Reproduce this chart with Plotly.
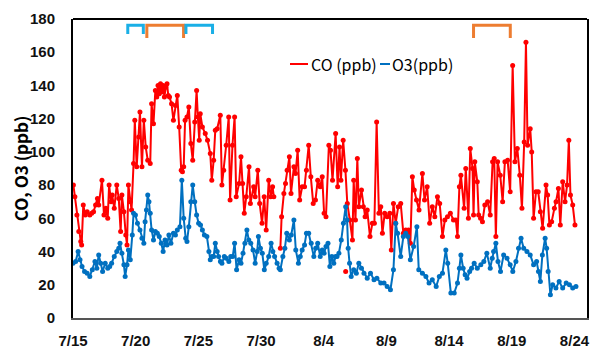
import pandas as pd
import plotly.graph_objects as go

start = pd.Timestamp("2023-07-15")

# CO (ppb): day offset from 7/15 and value (None = gap)
co_day = [0.03,0.15,0.31,0.46,0.62,0.69,0.82,0.98,1.13,1.34,1.49,1.64,1.80,1.95,2.05,2.31,2.47,2.62,2.77,2.88,3.03,3.13,3.29,3.49,3.65,3.80,3.90,4.06,4.21,4.31,4.42,4.57,4.67,4.83,4.93,5.08,5.24,5.34,5.50,5.65,5.80,5.96,6.16,6.27,6.42,6.57,6.68,6.78,6.88,6.98,7.09,7.19,7.29,7.40,7.50,7.60,7.70,7.86,8.01,8.17,8.32,8.47,8.63,8.73,8.83,8.94,9.09,9.24,9.40,9.55,9.71,9.86,9.96,10.07,
          10.15,10.32,10.55,10.73,10.95,11.07,11.22,11.35,11.50,11.75,11.88,12.02,12.22,12.42,12.53,12.72,12.89,13.02,13.25,13.40,13.53,13.66,13.82,14.04,14.15,14.41,14.53,14.74,14.89,15.08,15.25,15.41,15.61,15.77,15.92,16.02,16.28,
          16.54,16.64,16.82,16.95,17.08,17.26,17.39,17.62,17.75,17.92,18.08,18.28,18.47,18.62,18.80,18.97,19.16,19.34,19.52,19.72,19.88,20.03,20.18,20.41,20.54,
          20.70,20.95,21.11,21.26,21.37,21.55,21.73,21.88,22.08,22.29,22.39,22.53,22.68,22.80,23.01,23.16,23.30,23.47,23.69,23.88,24.04,24.22,24.40,24.55,24.68,24.86,25.06,25.27,25.39,25.56,25.74,25.94,26.14,26.35,26.54,26.76,26.91,27.07,27.22,27.40,27.60,27.87,28.04,28.25,28.45,28.66,28.86,29.07,29.25,29.47,29.66,29.87,30.10,30.35,30.54,30.67,30.82,
          30.94,31.20,31.33,31.54,31.69,31.87,31.95,32.05,32.25,32.36,32.51,32.66,32.85,33.07,33.28,33.47,33.60,33.73,33.87,34.08,34.27,34.45,34.67,34.87,35.07,35.25,35.44,35.64,35.81,35.99,36.13,36.26,36.47,36.59,36.74,36.93,37.11,37.28,37.46,37.73,37.86,38.00,38.18,38.40,38.53,38.72,38.87,39.06,39.25,39.41,39.55,39.68,39.86,40.04]
co_val = [80,73,62,52,46,44,68,62,64,62,63,64,68,72,68,83,62,66,60,80,70,74,66,80,72,52,74,64,50,44,80,70,65,93,119,91,109,124,91,119,103,95,93,129,117,137,133,140,135,141,136,140,133,139,141,134,133,129,119,128,134,115,89,88,91,119,121,127,105,95,118,137,121,107,
          123,115,111,107,99,83,95,113,114,122,80,89,104,121,71,104,121,73,81,97,81,63,73,91,69,79,73,89,69,57,73,53,83,73,79,73,None,
          42,61,75,81,89,97,75,91,87,101,71,79,79,89,104,85,69,71,83,79,85,63,61,104,101,
          83,111,79,103,83,107,89,69,59,47,83,59,96,67,77,67,61,65,49,57,57,118,63,67,51,63,61,63,41,69,57,67,69,51,53,53,45,85,77,71,65,87,71,79,57,67,61,73,69,49,59,61,63,59,59,49,79,
          86,66,90,60,102,90,62,94,82,62,60,58,68,70,62,94,96,49,94,86,70,94,95,76,152,94,102,86,66,106,166,104,114,100,60,76,76,64,54,80,74,56,58,66,70,78,56,82,70,80,107,74,68,56]

# isolated CO sample
co_extra_day = [21.75]
co_extra_val = [28]

# O3 (ppb)
o3_day = [0.0,0.21,0.41,0.56,0.72,0.92,1.13,1.34,1.54,1.75,1.90,2.05,2.21,2.36,2.57,2.77,2.93,3.08,3.29,3.49,3.65,3.75,3.90,4.06,4.16,4.31,4.42,4.57,4.73,4.83,4.98,5.14,5.34,5.50,5.65,5.75,5.86,5.96,6.06,6.16,6.27,6.42,6.57,6.73,6.88,7.04,7.19,7.34,7.50,7.65,7.81,8.01,8.17,8.32,8.53,8.68,8.83,8.99,9.09,9.24,9.40,9.55,9.71,9.86,10.02,10.17,10.32,
          10.48,10.68,10.84,10.95,11.09,11.22,11.35,11.50,11.61,11.76,11.88,12.07,12.22,12.43,12.58,12.74,12.89,13.05,13.25,13.40,13.56,13.71,13.87,14.02,14.18,14.36,14.53,14.69,14.79,14.95,15.10,15.26,15.41,15.61,15.80,15.94,16.08,16.28,16.44,16.54,16.74,16.90,17.05,17.26,17.41,17.62,17.77,17.98,18.13,18.28,18.47,18.62,18.80,19.00,19.21,19.36,19.52,19.72,19.88,20.03,20.18,20.34,20.49,20.65,
          20.80,20.95,21.06,21.21,21.40,21.57,21.75,21.86,21.95,22.06,22.19,22.39,22.60,22.80,23.01,23.21,23.47,23.73,24.01,24.24,24.55,24.81,25.06,25.32,25.56,25.74,25.89,26.14,26.35,26.54,26.71,26.91,27.17,27.43,27.58,27.87,28.15,28.40,28.66,28.97,29.22,29.47,29.74,29.89,30.14,30.41,30.67,30.82,
          30.94,31.12,31.28,31.43,31.64,31.79,32.00,32.25,32.53,32.77,33.01,33.28,33.44,33.55,33.73,33.90,34.10,34.35,34.62,34.87,35.08,35.33,35.54,35.74,35.95,36.21,36.47,36.74,36.98,37.13,37.28,37.44,37.66,37.78,37.90,38.08,38.26,38.52,38.78,39.06,39.34,39.60,39.86,40.12]
o3_val = [33,34,40,35,31,28,27,25,29,34,30,38,33,28,33,30,31,33,37,40,42,45,39,32,25,32,41,35,50,63,62,57,53,48,45,58,65,74,70,63,53,47,52,51,49,45,40,47,44,50,45,51,50,53,55,83,60,48,46,55,70,80,70,62,57,56,53,
          50,49,40,35,37,37,45,40,37,34,33,37,36,34,37,37,45,29,35,33,39,45,53,47,45,41,33,40,49,42,39,29,33,37,45,40,37,33,30,29,37,42,51,47,50,59,41,33,37,41,44,51,51,45,37,42,45,37,41,39,43,45,31,37,
          33,37,37,39,47,57,67,59,42,33,25,29,27,33,30,27,24,27,23,24,21,21,19,17,29,57,51,37,49,51,49,35,43,55,29,27,25,21,23,19,25,27,41,33,15,15,21,30,
          38,30,26,24,28,30,33,30,32,34,39,30,36,40,45,34,28,38,36,32,28,34,42,48,42,40,38,32,34,28,22,38,48,42,28,14,20,18,22,18,21,20,18,19]

# x-axis: range 7/15 .. 8/25, ticks every 5 days
x_range_days = [0, 41]
tick_day = [0, 5, 10, 15, 20, 25, 30, 35, 40]
tick_text = ["7/15", "7/20", "7/25", "7/30", "8/4", "8/9", "8/14", "8/19", "8/24"]

# marked periods (start day, end day, colour group)
periods_day = [(4.37, 5.61), (5.89, 8.82), (9.01, 11.13), (31.95, 34.88)]
periods_kind = ["blue", "orange", "blue", "orange"]

series_names = ["CO (ppb)", "O3(ppb)"]

def to_time(days):
    return [start + pd.Timedelta(days=d) for d in days]

def pstr(t):
    return t.strftime("%Y-%m-%d_%H:%M:%S")

RED = "#FF0000"
BLUE = "#0070C0"
fig = go.Figure()
fig.add_trace(go.Scatter(x=to_time(co_day), y=co_val, name=series_names[0], mode="lines+markers",
                         line=dict(color=RED, width=2), marker=dict(color=RED, size=5),
                         connectgaps=False, showlegend=False))
fig.add_trace(go.Scatter(x=to_time(o3_day), y=o3_val, name=series_names[1], mode="lines+markers",
                         line=dict(color=BLUE, width=2), marker=dict(color=BLUE, size=5),
                         showlegend=False))
fig.add_trace(go.Scatter(x=to_time(co_extra_day), y=co_extra_val, mode="markers",
                         marker=dict(color=RED, size=5), showlegend=False))

kind_col = {"blue": "#1AAFE6", "orange": "#ED7D31"}
for (d0, d1), k in zip(periods_day, periods_kind):
    t0 = pstr(start + pd.Timedelta(days=d0))
    t1 = pstr(start + pd.Timedelta(days=d1))
    ybot = 171 if k == "blue" else 168.5
    fig.add_shape(type="path", xref="x", yref="y",
                  path=f"M {t0},{ybot} L {t0},176.3 L {t1},176.3 L {t1},{ybot}",
                  line=dict(color=kind_col[k], width=3))

# top frame line
fig.add_shape(type="line", xref="paper", yref="paper", x0=0, x1=1, y0=1, y1=1,
              line=dict(color="black", width=2))

# compact legend (short line samples, as in the reference)
PW = 514.0  # plot width px
PH = 299.0  # plot height px
def px_x(p):
    return (p - 73) / PW
def px_y(p):
    return (318 - p) / PH
leg_y = px_y(64)
legend_items = [(290, 308, 311, RED), (380, 390, 392, BLUE)]
for name, (lx0, lx1, tx, col) in zip(series_names, legend_items):
    fig.add_shape(type="line", xref="paper", yref="paper", x0=px_x(lx0), x1=px_x(lx1),
                  y0=leg_y, y1=leg_y, line=dict(color=col, width=2))
    fig.add_annotation(xref="paper", yref="paper", x=px_x(tx), y=leg_y, text=name,
                       showarrow=False, xanchor="left", yanchor="middle", xshift=-2,
                       font=dict(family="Noto Sans CJK JP, Liberation Sans", size=16, color="black"))

tickfont = dict(family="Liberation Sans, Arial", size=15, color="#111111", weight="bold")
fig.update_layout(
    width=592, height=341,
    margin=dict(l=65, r=13, t=11, b=31, autoexpand=False),
    paper_bgcolor="white", plot_bgcolor="white",
    showlegend=False,
    xaxis=dict(range=to_time(x_range_days), automargin=False,
               tickvals=to_time(tick_day), ticktext=tick_text, ticklabeloverflow="allow",
               showgrid=False, zeroline=False, showline=True, linecolor="#555555", linewidth=2,
               ticks="outside", ticklen=8, tickcolor="rgba(0,0,0,0)", tickfont=tickfont),
    yaxis=dict(range=[0, 180], dtick=20, showgrid=False, zeroline=False, automargin=False,
               showline=True, linecolor="black", linewidth=2, mirror=True,
               ticks="outside", ticklen=13, tickcolor="rgba(0,0,0,0)", tickfont=tickfont,
               title=dict(text="CO, O3 (ppb)", standoff=6,
                          font=dict(family="Noto Sans CJK JP, Liberation Sans", size=17, color="black", weight="bold"))),
)

fig.write_html("out.html")
